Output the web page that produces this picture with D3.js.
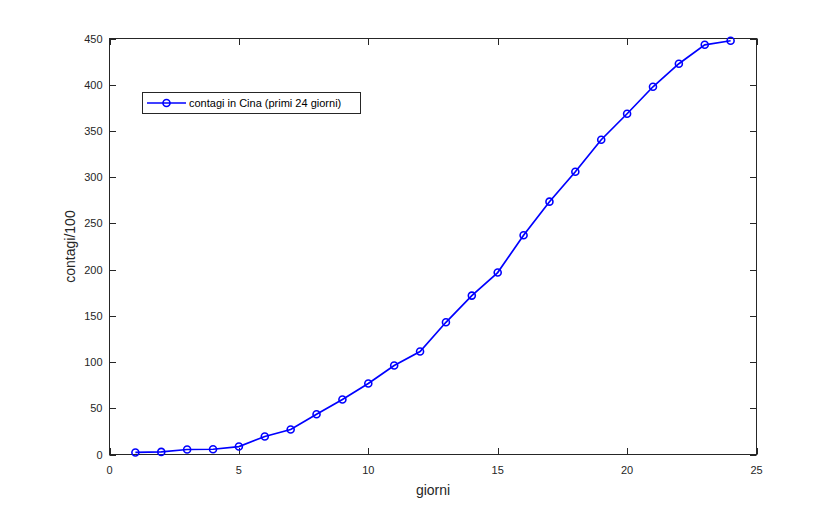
<!DOCTYPE html>
<html><head><meta charset="utf-8">
<script src="https://cdn.jsdelivr.net/npm/d3@7"></script>
<style>body{margin:0;background:#fff;} svg{display:block;}</style>
</head><body>
<script>
const days = [1,2,3,4,5,6,7,8,9,10,11,12,13,14,15,16,17,18,19,20,21,22,23,24];
const contagi = [2.2,2.8,5.4,5.7,8.6,19.5,27,43.6,59.5,76.8,96.2,111.4,143,171.9,196.8,237.1,273.5,305.9,340.5,368.6,397.8,422.7,443.2,447.6];
const xTicks = [0,5,10,15,20,25];
const yTicks = [0,50,100,150,200,250,300,350,400,450];
const seriesName = "contagi in Cina (primi 24 giorni)";
const xLabel = "giorni", yLabel = "contagi/100";

const W=837,H=511, L=109.5, R=756.5, T=38.5, B=454.5;
const svg = d3.select("body").append("svg").attr("width",W).attr("height",H);
svg.append("rect").attr("width",W).attr("height",H).attr("fill","#fff");
const x = d3.scaleLinear().domain([0,25]).range([L,R]);
const y = d3.scaleLinear().domain([0,450]).range([B,T]);
const axc="#262626", tl=6.5, font="'Liberation Sans',Arial,Helvetica,sans-serif";

const g = svg.append("g");
g.append("rect").attr("x",L).attr("y",T).attr("width",R-L).attr("height",B-T).attr("fill","none").attr("stroke",axc).attr("stroke-width",1);
xTicks.forEach(v=>{
  const px=Math.round(x(v))+0.5;
  g.append("line").attr("x1",px).attr("x2",px).attr("y1",B).attr("y2",B-tl).attr("stroke",axc);
  g.append("line").attr("x1",px).attr("x2",px).attr("y1",T).attr("y2",T+tl).attr("stroke",axc);
  g.append("text").attr("x",x(v)).attr("y",B+19).attr("text-anchor","middle").attr("font-family",font).attr("font-size",11).attr("fill",axc).text(v);
});
yTicks.forEach(v=>{
  const py=Math.round(y(v))+0.5;
  g.append("line").attr("x1",L).attr("x2",L+tl).attr("y1",py).attr("y2",py).attr("stroke",axc);
  g.append("line").attr("x1",R).attr("x2",R-tl).attr("y1",py).attr("y2",py).attr("stroke",axc);
  g.append("text").attr("x",L-7).attr("y",y(v)+4).attr("text-anchor","end").attr("font-family",font).attr("font-size",11).attr("fill",axc).text(v);
});
g.append("text").attr("x",(L+R)/2).attr("y",495).attr("text-anchor","middle").attr("font-family",font).attr("font-size",14).attr("fill",axc).text(xLabel);
g.append("text").attr("transform",`translate(75,${(T+B)/2}) rotate(-90)`).attr("text-anchor","middle").attr("font-family",font).attr("font-size",14).attr("fill",axc).text(yLabel);

const line = d3.line().x((d,i)=>x(days[i])).y(d=>y(d));
svg.append("path").datum(contagi).attr("d",line).attr("fill","none").attr("stroke","#0000ff").attr("stroke-width",1.7);
svg.selectAll("circle.pt").data(contagi).enter().append("circle").attr("class","pt")
  .attr("cx",(d,i)=>x(days[i])).attr("cy",d=>y(d)).attr("r",3.5).attr("fill","none").attr("stroke","#0000ff").attr("stroke-width",1.6);

const lg = svg.append("g");
lg.append("rect").attr("x",142.5).attr("y",92.5).attr("width",218).attr("height",21).attr("fill","#fff").attr("stroke",axc);
lg.append("line").attr("x1",147).attr("x2",186).attr("y1",103).attr("y2",103).attr("stroke","#0000ff").attr("stroke-width",1.7);
lg.append("circle").attr("cx",166.5).attr("cy",103).attr("r",3.5).attr("fill","none").attr("stroke","#0000ff").attr("stroke-width",1.6);
lg.append("text").attr("x",189).attr("y",107).attr("font-family",font).attr("font-size",11).attr("fill","#000").text(seriesName);
</script>
</body></html>
